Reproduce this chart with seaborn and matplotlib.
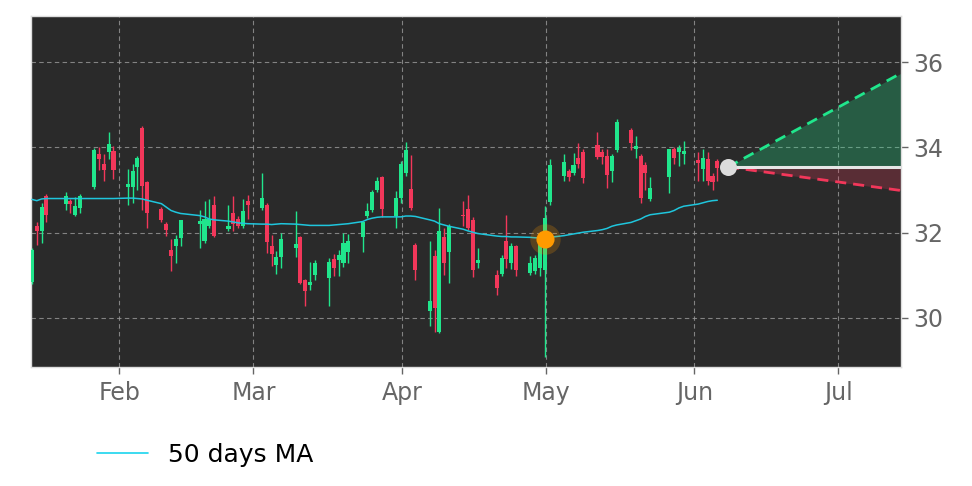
import numpy as np
import pandas as pd
import matplotlib
matplotlib.use("Agg")
import matplotlib.pyplot as plt
import matplotlib.dates as mdates
from matplotlib.lines import Line2D
import seaborn as sns

# ---------------- data ----------------
holidays = ["2025-01-20", "2025-02-17", "2025-04-18", "2025-05-26"]
# session timestamps (stamped a few hours before local midnight, UTC)
dates = pd.bdate_range("2025-01-14", "2025-06-06", freq="C",
                       holidays=holidays) - pd.Timedelta(hours=5)

opens = [30.85, 32.16, 32.05, 32.85, 32.68, 32.74, 32.42, 32.58, 33.08, 33.85,
         33.60, 33.89, 33.91, 33.08, 33.08, 33.54, 34.46, 33.18, 32.56, 32.21,
         31.60, 31.69, 31.88, 32.21, 31.80, 32.16, 32.64, 32.09, 32.45, 32.31,
         32.16, 32.74, 32.58, 32.66, 31.69, 31.25, 31.44, 31.63, 31.90, 30.89,
         30.78, 31.01, 30.93, 31.39, 31.36, 31.29, 31.54, 31.90, 32.40, 32.52,
         33.01, 33.30, 32.38, 32.82, 33.39, 33.03, 31.72, 30.16, 31.46, 29.68,
         31.90, 31.54, 32.42, 32.56, 32.29, 31.30, 31.01, 31.04, 31.81, 31.29,
         31.69, 31.05, 31.09, 31.17, 31.13, 32.71, 33.34, 33.44, 33.40, 33.76,
         33.88, 34.05, 33.89, 33.80, 33.44, 33.94, 34.41, 33.95, 33.80, 33.58,
         32.78, 33.31, 33.95, 33.88, 33.85, 33.70, 33.50, 33.73, 33.32, 33.68]
highs = [31.65, 32.24, 32.70, 32.90, 32.96, 32.80, 32.83, 32.90, 33.98, 34.00,
         33.85, 34.35, 34.03, 33.50, 33.60, 33.80, 34.49, 33.20, 32.60, 32.25,
         31.84, 31.95, 32.30, 32.54, 32.74, 32.78, 32.86, 32.66, 32.85, 32.40,
         32.80, 32.89, 33.39, 32.70, 31.95, 31.56, 32.00, 32.50, 31.92, 30.92,
         31.32, 31.35, 31.40, 31.50, 31.60, 32.00, 31.98, 32.26, 32.70, 33.00,
         33.30, 33.34, 32.97, 33.68, 34.12, 33.81, 31.76, 31.80, 31.60, 32.58,
         32.10, 32.20, 32.74, 32.89, 32.36, 31.65, 31.13, 31.47, 32.42, 31.75,
         31.72, 31.45, 31.47, 31.80, 32.62, 33.72, 33.84, 33.50, 33.87, 34.11,
         33.95, 34.35, 33.95, 33.95, 33.85, 34.66, 34.45, 34.27, 33.85, 33.65,
         33.30, 33.97, 34.00, 34.05, 34.15, 33.88, 33.95, 33.90, 33.40, 33.72]
lows = [30.80, 31.72, 31.76, 32.24, 32.54, 32.47, 32.40, 32.47, 33.03, 33.48,
        33.20, 33.72, 33.25, 32.66, 32.70, 33.00, 32.54, 32.12, 32.25, 31.91,
        31.11, 31.29, 31.68, 31.64, 31.76, 32.10, 31.90, 32.03, 32.03, 32.10,
        32.12, 32.33, 32.54, 31.52, 31.21, 31.04, 31.16, 31.44, 30.80, 30.27,
        30.66, 30.90, 30.27, 30.99, 30.99, 31.20, 31.28, 31.54, 32.35, 32.48,
        32.96, 32.37, 32.11, 32.70, 33.32, 32.54, 30.89, 29.80, 29.68, 29.64,
        31.00, 30.82, 32.15, 32.07, 30.97, 31.18, 30.54, 30.99, 31.17, 31.15,
        30.99, 31.00, 31.04, 30.99, 29.08, 32.66, 33.21, 33.20, 33.35, 33.52,
        33.17, 33.72, 33.60, 33.05, 33.18, 33.90, 33.94, 33.76, 32.70, 33.01,
        32.75, 32.93, 33.60, 33.57, 33.60, 33.21, 33.20, 33.12, 33.00, 33.20]
closes = [31.60, 32.05, 32.60, 32.42, 32.85, 32.67, 32.62, 32.87, 33.94, 33.72,
          33.46, 34.09, 33.48, 33.15, 33.44, 33.74, 33.09, 32.47, 32.29, 32.07,
          31.46, 31.85, 32.29, 32.27, 32.31, 32.31, 31.91, 32.15, 32.21, 32.16,
          32.50, 32.66, 32.82, 31.77, 31.51, 31.42, 31.84, 31.74, 30.82, 30.64,
          30.85, 31.29, 31.32, 31.17, 31.47, 31.76, 31.80, 32.24, 32.50, 32.95,
          33.21, 32.56, 32.82, 33.60, 33.93, 32.58, 31.13, 30.40, 30.24, 32.05,
          31.30, 32.16, 32.38, 32.11, 31.13, 31.36, 30.70, 31.40, 31.38, 31.69,
          31.13, 31.30, 31.40, 31.72, 32.35, 33.58, 33.65, 33.30, 33.58, 33.62,
          33.29, 33.77, 33.77, 33.36, 33.80, 34.60, 34.11, 34.03, 32.82, 33.39,
          33.05, 33.95, 33.76, 33.99, 33.91, 33.64, 33.76, 33.21, 33.18, 33.51]
ma50 = [32.78, 32.75, 32.79, 32.80, 32.80, 32.80, 32.80, 32.80, 32.80, 32.80,
        32.80, 32.80, 32.80, 32.81, 32.81, 32.80, 32.79, 32.76, 32.68, 32.60,
        32.52, 32.48, 32.45, 32.40, 32.37, 32.32, 32.30, 32.27, 32.25, 32.23,
        32.22, 32.21, 32.20, 32.20, 32.19, 32.20, 32.21, 32.20, 32.19, 32.18,
        32.17, 32.17, 32.17, 32.18, 32.19, 32.20, 32.21, 32.26, 32.31, 32.34,
        32.36, 32.37, 32.37, 32.37, 32.39, 32.39, 32.38, 32.30, 32.27, 32.21,
        32.18, 32.15, 32.08, 32.04, 32.01, 31.98, 31.92, 31.91, 31.91, 31.90,
        31.90, 31.89, 31.88, 31.88, 31.88, 31.89, 31.93, 31.95, 31.97, 31.99,
        32.01, 32.05, 32.07, 32.10, 32.15, 32.18, 32.24, 32.28, 32.32, 32.38,
        32.42, 32.48, 32.52, 32.58, 32.62, 32.67, 32.70, 32.73, 32.75, 32.76]

signal_date = ["2025-04-30 19:00"]
signal_price = [31.84]

forecast_dates = ["2025-06-08", "2025-07-14"]
forecast_upper = [33.54, 35.73]
forecast_lower = [33.54, 32.99]
forecast_base = [33.54, 33.54]

y_ticks = [30, 32, 34, 36]
legend_label = "50 days MA"

# ---------------- style ----------------
BG = "#2a2a2a"
GREEN = "#20e68c"
RED = "#f2375a"
MA_COLOR = "#1fc6dd"
TICK_COLOR = "#666666"

sns.set_style("dark")
plt.rcParams["font.family"] = ["DejaVu Sans"]

fig = plt.figure(figsize=(9.72, 4.86), dpi=100)
fig.patch.set_facecolor("white")
ax = fig.add_axes([31 / 972, 1 - 367 / 486, 870 / 972, 351 / 486])
ax.set_facecolor(BG)

xd = mdates.date2num(pd.to_datetime(dates))
o = np.array(opens); h = np.array(highs); l = np.array(lows); c = np.array(closes)
cols = [GREEN if cc >= oo else RED for oo, cc in zip(o, c)]

# wicks
ax.vlines(xd, l, h, colors=cols, linewidth=1.0, zorder=3)
# bodies
body_h = np.maximum(np.abs(c - o), 0.03)
ax.bar(xd, body_h, bottom=np.minimum(o, c), width=0.85, color=cols,
       linewidth=0, zorder=3)

# moving average
sns.lineplot(x=xd, y=ma50, color=MA_COLOR, linewidth=1.1, ax=ax, zorder=4,
             legend=False)

# forecast cone
fx = mdates.date2num(pd.to_datetime(forecast_dates))
ax.fill_between(fx, forecast_base, forecast_upper, color=GREEN, alpha=0.27,
                linewidth=0, zorder=2)
ax.fill_between(fx, forecast_lower, forecast_base, color=RED, alpha=0.24,
                linewidth=0, zorder=2)
sns.lineplot(x=fx, y=forecast_upper, color=GREEN, linewidth=2.0,
             linestyle=(0, (4, 2.5)), ax=ax, zorder=5, legend=False)
sns.lineplot(x=fx, y=forecast_lower, color=RED, linewidth=2.0,
             linestyle=(0, (4, 2.5)), ax=ax, zorder=5, legend=False)
sns.lineplot(x=fx, y=forecast_base, color="#e6e6e6", linewidth=2.2, ax=ax,
             zorder=5, legend=False)
ax.scatter(fx[:1], forecast_base[:1], s=150, color="#dcdcdc", zorder=6,
           linewidths=0)

# signal marker
sx = mdates.date2num(pd.to_datetime(signal_date))
ax.scatter(sx, signal_price, s=480, color="#ff9a00", alpha=0.22, zorder=6,
           linewidths=0)
ax.scatter(sx, signal_price, s=170, color="#ff9a00", zorder=7, linewidths=0)

# axes
ax.set_xlim(mdates.date2num(pd.Timestamp("2025-01-13 14:00")),
            mdates.date2num(pd.Timestamp("2025-07-14 03:00")))
ax.set_ylim(28.85, 37.08)
ax.xaxis.set_major_locator(mdates.MonthLocator())
ax.xaxis.set_major_formatter(mdates.DateFormatter("%b"))
ax.yaxis.tick_right()
ax.set_yticks(y_ticks)
ax.set_yticklabels([str(v) for v in y_ticks])
ax.tick_params(axis="both", colors=TICK_COLOR, labelcolor=TICK_COLOR,
               labelsize=17, length=5, width=1, direction="out",
               bottom=True, right=True, left=False)
ax.tick_params(axis="x", pad=5)
ax.tick_params(axis="y", pad=4)
ax.grid(True, color="#9a9a9a", linestyle=(0, (4, 3)), linewidth=0.8, alpha=0.8)
ax.set_axisbelow(True)
for s in ax.spines.values():
    s.set_color("#dddddd")
    s.set_linewidth(1)
ax.set_xlabel("")
ax.set_ylabel("")

handle = Line2D([], [], color="#1ad4ee", linewidth=1.2)
fig.legend([handle], [legend_label], loc="center left",
           bbox_to_anchor=(97 / 972, 1 - 455 / 486), frameon=False,
           fontsize=18, handlelength=2.05, handletextpad=0.8,
           borderpad=0, borderaxespad=0, labelcolor="black")

fig.savefig("out.png", dpi=100, facecolor="white")
